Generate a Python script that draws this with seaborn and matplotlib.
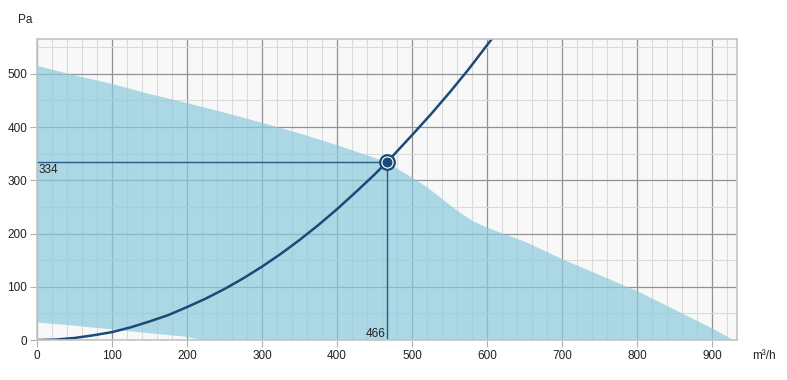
import matplotlib
matplotlib.use("Agg")
from matplotlib import pyplot as plt
from matplotlib.ticker import MultipleLocator
import seaborn as sns
import pandas as pd

# fan envelope, upper edge (m3/h, Pa)
env_top_x = [0, 50, 100, 150, 200, 250, 300, 350, 400, 450, 466, 500, 520, 540, 560,
             580, 600, 625, 650, 700, 750, 800, 850, 900, 928]
env_top_y = [515, 497, 481, 462, 445, 427, 408, 388, 366, 342, 334, 305, 287, 265, 243,
             224, 211, 198, 185, 152, 122, 92, 57, 22, 0]
# lower edge (white wedge bottom-left)
env_low_x = [220, 200, 150, 100, 50, 0]
env_low_y = [0, 6, 13, 20, 27, 33]

# system curve
sys_x = [0, 25, 50, 75, 100, 125, 150, 175, 200, 225, 250, 275, 300, 325, 350, 375,
         400, 425, 450, 466, 475, 500, 525, 550, 575, 600, 606]
sys_y = [0, 1, 4, 9, 15, 24, 35, 47, 62, 78, 96, 116, 138, 162, 188, 216,
         246, 278, 311, 334, 347, 385, 424, 465, 508, 554, 565]

op_flow = 466
op_pres = 334

sns.set_style("white")
plt.rcParams['font.family'] = ['Liberation Sans', 'DejaVu Sans']

fig = plt.figure(figsize=(7.87, 3.80), dpi=100)
ax = fig.add_axes([0.047, 0.105, 0.8895, 0.792])
ax.set_facecolor('#f8f8f8')

# grid (under the envelope, shows through it)
ax.xaxis.set_major_locator(MultipleLocator(100))
ax.xaxis.set_minor_locator(MultipleLocator(20))
ax.yaxis.set_major_locator(MultipleLocator(100))
ax.yaxis.set_minor_locator(MultipleLocator(50))
ax.grid(which='major', color='#929292', lw=0.9)
ax.grid(which='minor', color='#dadada', lw=0.8)
ax.set_axisbelow(True)

# envelope
ax.fill(env_top_x + env_low_x, env_top_y + env_low_y, color='#8ccade', alpha=0.7,
        lw=0, zorder=2)

curve = pd.DataFrame({'q': sys_x, 'p': sys_y})
sns.lineplot(data=curve, x='q', y='p', ax=ax, color='#1c4a78', lw=1.8, zorder=5)

# operating point lines
ax.plot([0, op_flow], [op_pres, op_pres], color='#2a5a8a', lw=1.0, zorder=4)
ax.plot([op_flow, op_flow], [0, op_pres], color='#2a5a8a', lw=1.0, zorder=4)
ax.scatter([op_flow], [op_pres], s=110, facecolor='white', edgecolor='#1c4a78',
           lw=1.6, zorder=6)
ax.scatter([op_flow], [op_pres], s=38, color='#1c4a78', zorder=7)

ax.text(2, op_pres - 4, str(op_pres), ha='left', va='top', fontsize=8.5, color='#222222', zorder=8)
ax.text(op_flow - 1, 1, str(op_flow), ha='right', va='bottom', fontsize=8.5, color='#222222', zorder=8)

ax.set_xlim(0, 933)
ax.set_ylim(0, 565)
ax.set_xlabel('')
ax.set_ylabel('')
ax.tick_params(which='major', length=5, color='#b0b0b0', labelsize=8.5,
               labelcolor='#222222', bottom=True, left=True, pad=2)
ax.tick_params(which='minor', length=0)
for s in ax.spines.values():
    s.set_color('#c4c4c4')
    s.set_linewidth(1.2)
    s.set_zorder(9)

fig.text(25 / 787, 1 - 20 / 380, 'Pa', ha='center', va='center', fontsize=8.5, color='#222222')
fig.text(752 / 787, 1 - 356 / 380, 'm³/h', ha='left', va='center', fontsize=8.5, color='#222222')

fig.savefig('out.png', dpi=100)
